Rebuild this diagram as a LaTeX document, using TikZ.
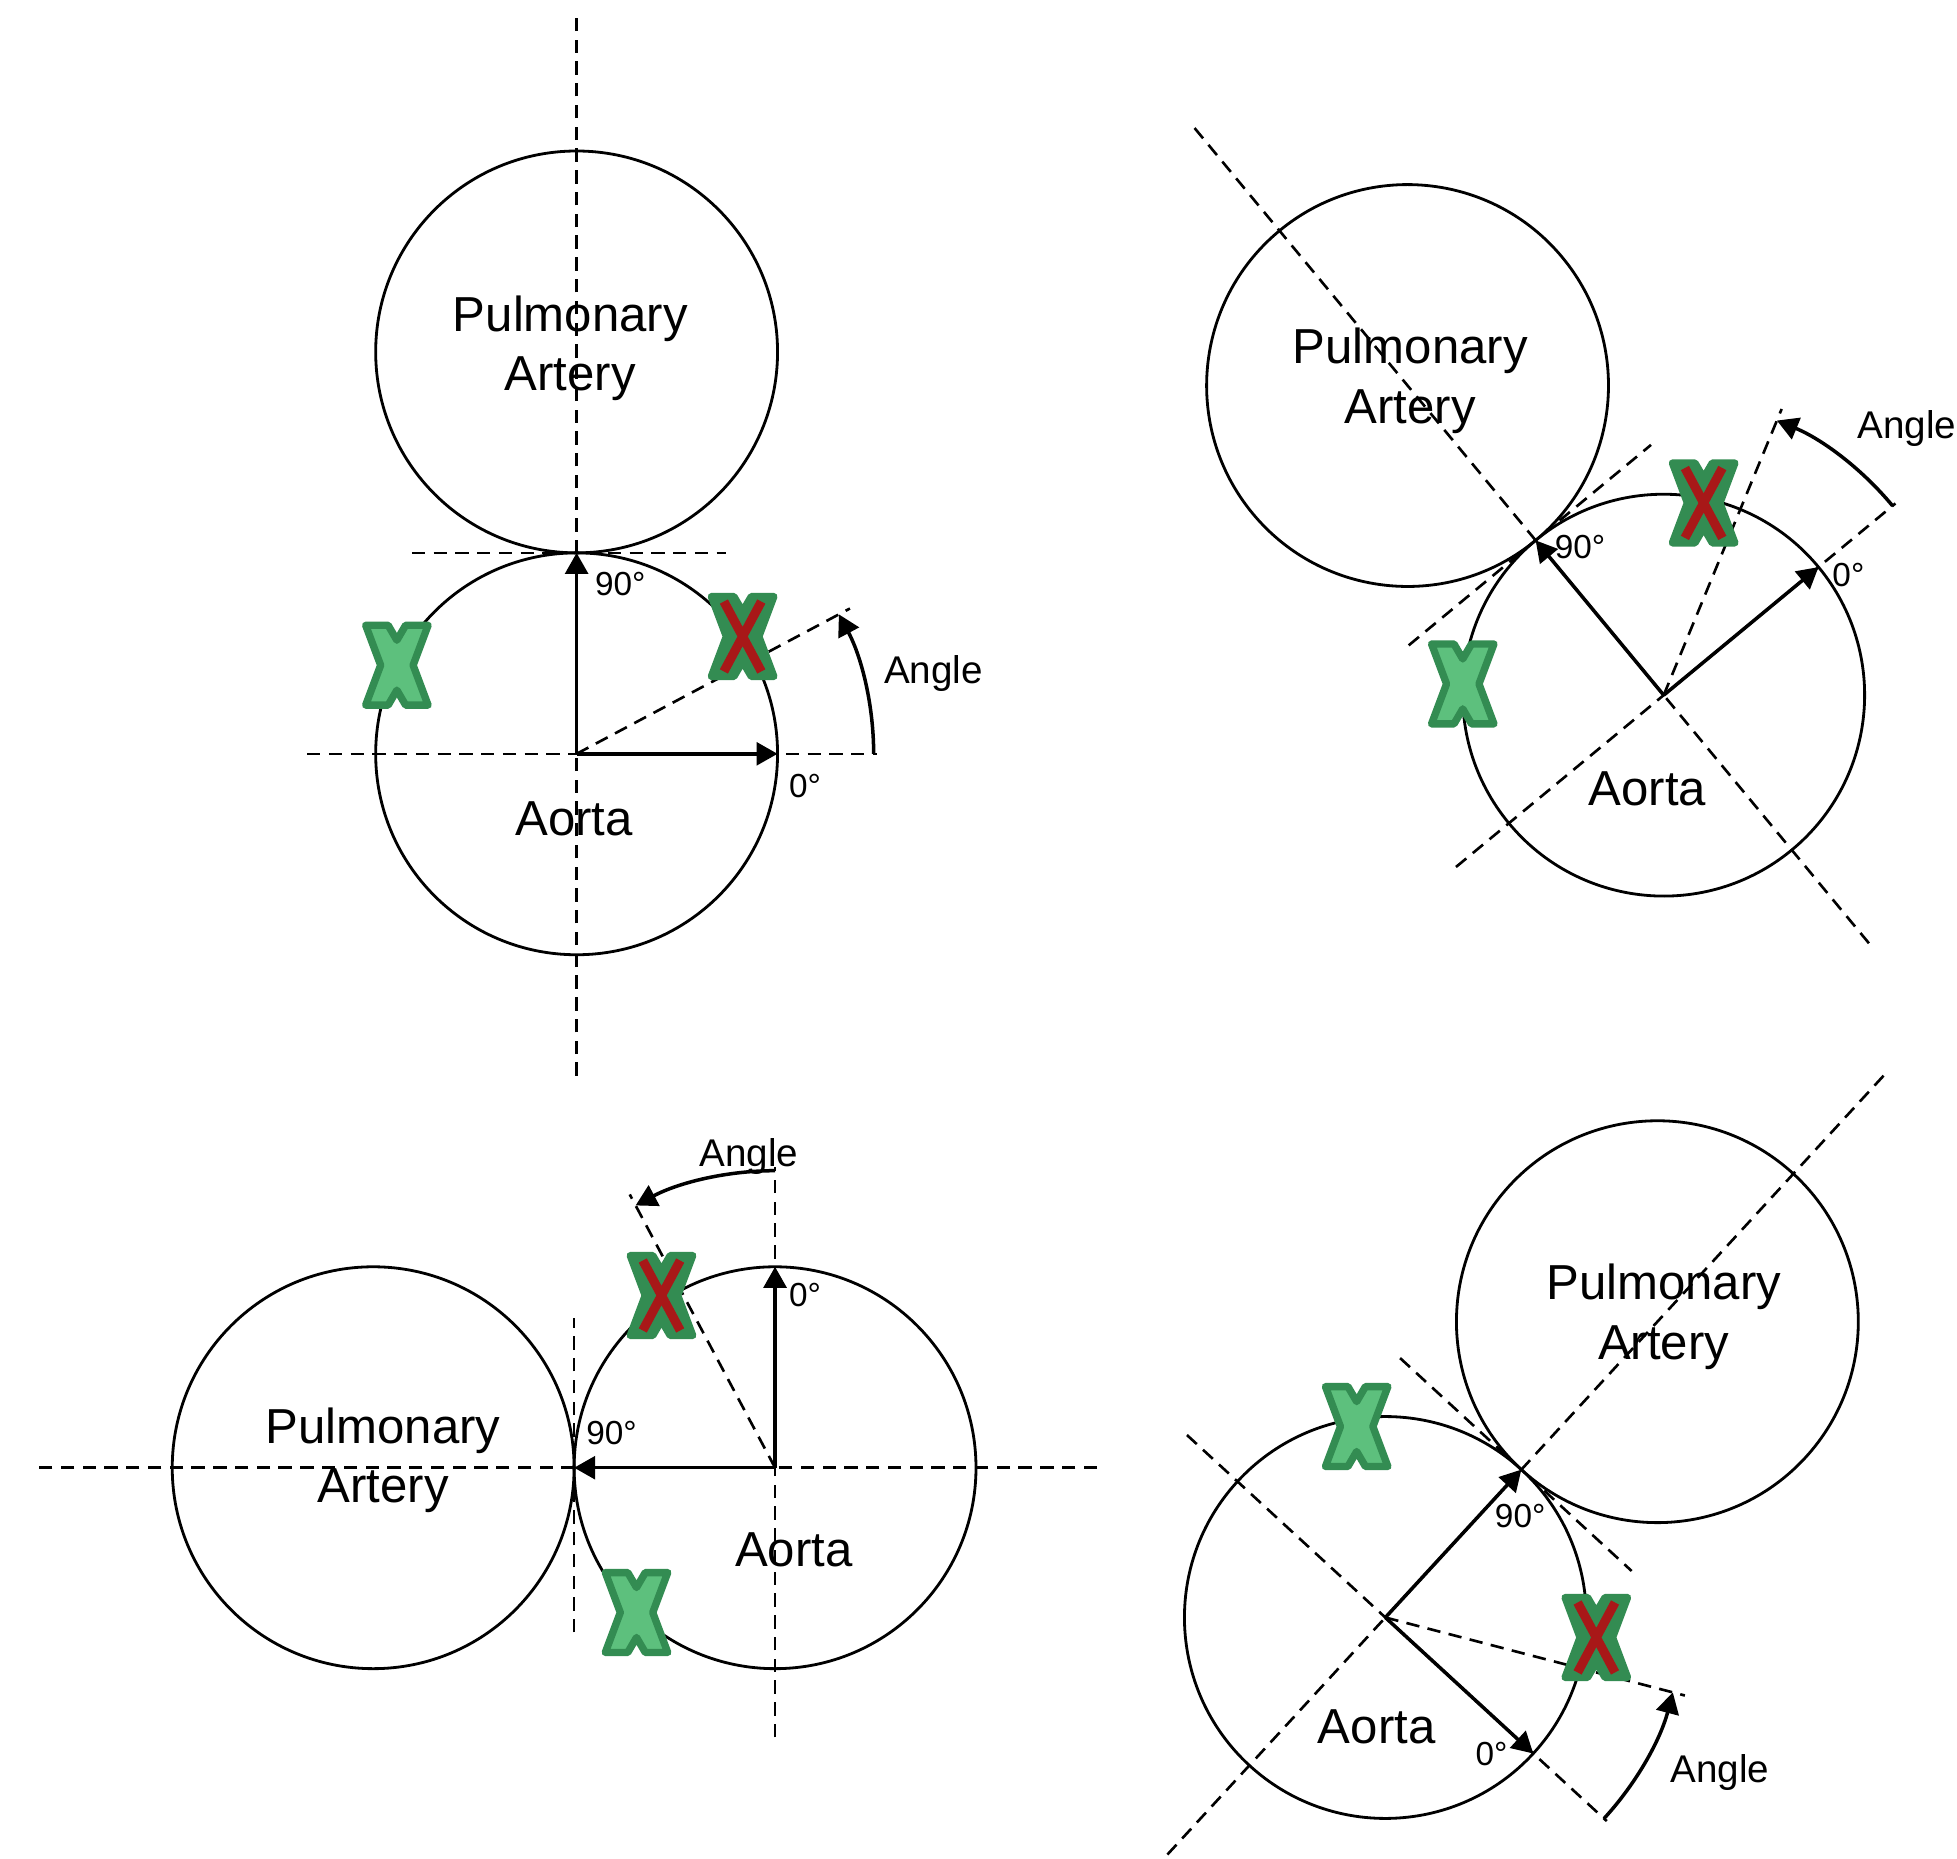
\documentclass[tikz,border=0pt]{standalone}
\usepackage{fontspec}
\setmainfont{Liberation Sans}
\usetikzlibrary{arrows.meta}

\definecolor{xdark}{HTML}{338C52}
\definecolor{xlight}{HTML}{5DC07D}
\definecolor{xred}{HTML}{A81818}

\tikzset{
  vessel/.style={draw=black, line width=0.8pt},
  guide/.style={draw=black, line width=0.75pt, dash pattern=on 3.8pt off 2.4pt},
  axisarrow/.style={draw=black, line width=1pt, -{Triangle[length=6pt,width=6.5pt]}},
  bigtext/.style={font=\fontsize{14}{17}\selectfont, align=center, inner sep=0pt},
  degtext/.style={font=\fontsize{9.5}{11}\selectfont, inner sep=0pt},
  angtext/.style={font=\fontsize{11}{13}\selectfont, inner sep=0pt},
  xbody/.style={line width=2.1pt, line join=round},
  pics/greenx/.style={code={
    \filldraw[xbody, fill=xlight, draw=xdark]
      (-25,32) -- (-7,32) -- (0,20) -- (7,32) -- (25,32) -- (13,0) --
      (25,-32) -- (7,-32) -- (0,-20) -- (-7,-32) -- (-25,-32) -- (-13,0) -- cycle;
  }},
  pics/redx/.style={code={
    \filldraw[xbody, fill=xdark, draw=xdark]
      (-25,32) -- (-7,32) -- (0,20) -- (7,32) -- (25,32) -- (13,0) --
      (25,-32) -- (7,-32) -- (0,-20) -- (-7,-32) -- (-25,-32) -- (-13,0) -- cycle;
    \draw[xred, line width=2.6pt] (-15,28) -- (15,-28) (15,28) -- (-15,-28);
  }},
}

% One aorta / pulmonary artery pair.
% #1 name prefix, #2 aorta centre, #3 direction of the 0-degree axis
\newcommand{\anglepanel}[3]{%
  \begin{scope}[shift={#2}, rotate=#3]
    \coordinate (#1-a)  at (0,0);
    \coordinate (#1-p)  at (0,322);
    \coordinate (#1-t)  at (0,161);
    \coordinate (#1-z)  at (161,0);
    \coordinate (#1-ua) at (-216,0);
    \coordinate (#1-ub) at (241,0);
    \coordinate (#1-va) at (0,-258);
    \coordinate (#1-vb) at (0,592);
    \coordinate (#1-ta) at (-132,161);
    \coordinate (#1-tb) at (120,161);
    \coordinate (#1-m)  at (28:248);
    \coordinate (#1-s)  at (238,0);
    \draw[vessel] (#1-a) circle[radius=161];
    \draw[vessel] (#1-p) circle[radius=161];
    \draw[guide] (#1-va) -- (#1-vb);
    \draw[guide] (#1-ua) -- (#1-ub);
    \draw[guide] (#1-ta) -- (#1-tb);
    \draw[guide] (#1-a) -- (#1-m);
    \draw[axisarrow] (#1-a) -- (#1-z);
    \draw[axisarrow] (#1-a) -- (#1-t);
    \draw[axisarrow] (#1-s) arc[start angle=0, end angle=28, radius=238];
  \end{scope}}

\begin{document}
\begin{tikzpicture}[x=0.0125cm, y=0.0125cm]
  \fill[white] (0,0) rectangle (1568,1489);
  \useasboundingbox (0,0) rectangle (1568,1489);

  % top left
  \anglepanel{pa}{(462,885)}{0}
  \node[bigtext] (pa-lp) at (457,1210) {Pulmonary\\Artery};
  \node[bigtext] (pa-la) at (460,833) {Aorta};
  \node[degtext] (pa-l90) at (497,1021) {90°};
  \node[degtext] (pa-l0) at (645,859) {0°};
  \node[angtext] (pa-lang) at (748,949) {Angle};
  \pic at (318,956) {greenx};
  \pic at (595,979) {redx};

  % top right
  \anglepanel{pb}{(1333,932)}{39.6}
  \node[bigtext] (pb-lp) at (1130,1184) {Pulmonary\\Artery};
  \node[bigtext] (pb-la) at (1320,857) {Aorta};
  \node[degtext] (pb-l90) at (1266,1051) {90°};
  \node[degtext] (pb-l0) at (1481,1028) {0°};
  \node[angtext] (pb-lang) at (1528,1146) {Angle};
  \pic at (1172,941) {greenx};
  \pic at (1365,1086) {redx};

  % bottom left
  \anglepanel{pc}{(621,313)}{90}
  \node[bigtext] (pc-lp) at (307,319) {Pulmonary\\Artery};
  \node[bigtext] (pc-la) at (636,247) {Aorta};
  \node[degtext] (pc-l90) at (490,341) {90°};
  \node[degtext] (pc-l0) at (645,451) {0°};
  \node[angtext] (pc-lang) at (600,562) {Angle};
  \pic at (510,197) {greenx};
  \pic at (530,451) {redx};

  % bottom right
  \anglepanel{pd}{(1110,193)}{-42.6}
  \node[bigtext] (pd-lp) at (1333,434) {Pulmonary\\Artery};
  \node[bigtext] (pd-la) at (1103,105) {Aorta};
  \node[degtext] (pd-l90) at (1218,274) {90°};
  \node[degtext] (pd-l0) at (1195,84) {0°};
  \node[angtext] (pd-lang) at (1378,69) {Angle};
  \pic at (1087,346) {greenx};
  \pic at (1279,177) {redx};
\end{tikzpicture}
\end{document}
